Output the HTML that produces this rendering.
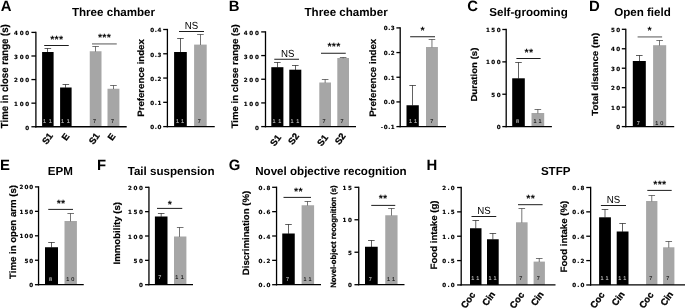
<!DOCTYPE html>
<html><head><meta charset="utf-8"><title>Figure</title>
<style>
html,body{margin:0;padding:0;background:#fff;}
body{width:685px;height:308px;overflow:hidden;}
svg{display:block;font-family:"Liberation Sans",sans-serif;text-rendering:geometricPrecision;}
</style></head><body>
<svg width="685" height="308" viewBox="0 0 685 308">
<rect width="685" height="308" fill="#fff"/>
<text x="0.7" y="11.3" font-size="14.9" font-weight="bold" text-anchor="start" fill="#000">A</text>
<text x="113.5" y="15.7" font-size="11.6" font-weight="bold" text-anchor="middle" fill="#000">Three chamber</text>
<rect x="42.1" y="52" width="11.5" height="74.75" fill="#000"/>
<line x1="47.5" y1="52.3" x2="47.5" y2="48.5" stroke="#000" stroke-width="0.62"/>
<line x1="44.55" y1="48.5" x2="51.15" y2="48.5" stroke="#000" stroke-width="0.62"/>
<text x="44.55 50.35" y="123.25" font-size="5.5" text-anchor="middle" fill="#c4c4c4" stroke="#c4c4c4" stroke-width="0.1">11</text>
<rect x="60.1" y="87.5" width="11.5" height="39.25" fill="#000"/>
<line x1="65.5" y1="87.8" x2="65.5" y2="84.5" stroke="#000" stroke-width="0.62"/>
<line x1="62.55" y1="84.5" x2="69.15" y2="84.5" stroke="#000" stroke-width="0.62"/>
<text x="62.55 68.35" y="123.25" font-size="5.5" text-anchor="middle" fill="#c4c4c4" stroke="#c4c4c4" stroke-width="0.1">11</text>
<rect x="89.75" y="51.25" width="11.75" height="75.5" fill="#a6a6a6"/>
<line x1="95.5" y1="51.55" x2="95.5" y2="46.5" stroke="#202020" stroke-width="0.62"/>
<line x1="92.33" y1="46.5" x2="98.92" y2="46.5" stroke="#202020" stroke-width="0.62"/>
<text x="94.62" y="123.25" font-size="5.5" text-anchor="middle" fill="#111" stroke="#111" stroke-width="0.1">7</text>
<rect x="107.5" y="88.75" width="11.9" height="38" fill="#a6a6a6"/>
<line x1="113.5" y1="89.05" x2="113.5" y2="85.5" stroke="#202020" stroke-width="0.62"/>
<line x1="110.15" y1="85.5" x2="116.75" y2="85.5" stroke="#202020" stroke-width="0.62"/>
<text x="112.45" y="123.25" font-size="5.5" text-anchor="middle" fill="#111" stroke="#111" stroke-width="0.1">7</text>
<line x1="35.9" y1="31.75" x2="35.9" y2="127.4" stroke="#000" stroke-width="1.3"/>
<line x1="35.25" y1="126.75" x2="126.7" y2="126.75" stroke="#000" stroke-width="1.3"/>
<line x1="31.4" y1="32.4" x2="35.9" y2="32.4" stroke="#000" stroke-width="1.3"/>
<text x="16 21.6 27.2" y="35.24" font-size="5.6" font-weight="bold" text-anchor="middle" font-family="DejaVu Sans, sans-serif" stroke="#000" stroke-width="0.15">400</text>
<line x1="31.4" y1="55.99" x2="35.9" y2="55.99" stroke="#000" stroke-width="1.3"/>
<text x="16 21.6 27.2" y="58.83" font-size="5.6" font-weight="bold" text-anchor="middle" font-family="DejaVu Sans, sans-serif" stroke="#000" stroke-width="0.15">300</text>
<line x1="31.4" y1="79.57" x2="35.9" y2="79.57" stroke="#000" stroke-width="1.3"/>
<text x="16 21.6 27.2" y="82.42" font-size="5.6" font-weight="bold" text-anchor="middle" font-family="DejaVu Sans, sans-serif" stroke="#000" stroke-width="0.15">200</text>
<line x1="31.4" y1="103.16" x2="35.9" y2="103.16" stroke="#000" stroke-width="1.3"/>
<text x="16 21.6 27.2" y="106.01" font-size="5.6" font-weight="bold" text-anchor="middle" font-family="DejaVu Sans, sans-serif" stroke="#000" stroke-width="0.15">100</text>
<line x1="31.4" y1="126.75" x2="35.9" y2="126.75" stroke="#000" stroke-width="1.3"/>
<text x="27.2" y="129.59" font-size="5.6" font-weight="bold" text-anchor="middle" font-family="DejaVu Sans, sans-serif" stroke="#000" stroke-width="0.15">0</text>
<line x1="44.2" y1="45.5" x2="68.75" y2="45.5" stroke="#111" stroke-width="0.95"/>
<text x="56.83" y="43.3" font-size="10.6" font-weight="bold" text-anchor="middle" fill="#000" letter-spacing="0.3">***</text>
<line x1="92" y1="43.9" x2="116.75" y2="43.9" stroke="#8e8e8e" stroke-width="1.5"/>
<text x="104.53" y="40.7" font-size="10.6" font-weight="bold" text-anchor="middle" fill="#000" letter-spacing="0.3">***</text>
<text transform="translate(7.7 76.2) rotate(-90) scale(0.94 1)" font-size="10.23" font-weight="bold" text-anchor="middle" stroke="#000" stroke-width="0.2">Time in close range (s)</text>
<text x="49.99" y="140.41" font-size="9.3" font-weight="bold" text-anchor="middle" fill="#000" transform="rotate(-54 49.99 140.41)" stroke="#000" stroke-width="0.3">S1</text>
<text x="68.09" y="138.66" font-size="9.3" font-weight="bold" text-anchor="middle" fill="#000" transform="rotate(-54 68.09 138.66)" stroke="#000" stroke-width="0.3">E</text>
<text x="96.79" y="140.41" font-size="9.3" font-weight="bold" text-anchor="middle" fill="#000" transform="rotate(-54 96.79 140.41)" stroke="#000" stroke-width="0.3">S1</text>
<text x="113.99" y="138.66" font-size="9.3" font-weight="bold" text-anchor="middle" fill="#000" transform="rotate(-54 113.99 138.66)" stroke="#000" stroke-width="0.3">E</text>
<rect x="174.1" y="52" width="12.7" height="74.6" fill="#000"/>
<line x1="180.5" y1="52.3" x2="180.5" y2="38.5" stroke="#000" stroke-width="0.62"/>
<line x1="177.15" y1="38.5" x2="183.75" y2="38.5" stroke="#000" stroke-width="0.62"/>
<text x="177.55 182.55" y="123.1" font-size="5.5" text-anchor="middle" fill="#c4c4c4" stroke="#c4c4c4" stroke-width="0.1">11</text>
<rect x="194.1" y="44.6" width="12.6" height="82" fill="#a6a6a6"/>
<line x1="200.5" y1="44.9" x2="200.5" y2="34.5" stroke="#202020" stroke-width="0.62"/>
<line x1="197.1" y1="34.5" x2="203.7" y2="34.5" stroke="#202020" stroke-width="0.62"/>
<text x="199.4" y="123.1" font-size="5.5" text-anchor="middle" fill="#111" stroke="#111" stroke-width="0.1">7</text>
<line x1="167.4" y1="28.85" x2="167.4" y2="127.25" stroke="#000" stroke-width="1.3"/>
<line x1="166.75" y1="126.6" x2="214.75" y2="126.6" stroke="#000" stroke-width="1.3"/>
<line x1="163.2" y1="29.5" x2="167.4" y2="29.5" stroke="#000" stroke-width="1.3"/>
<text x="152.08 155.79 159.5" y="32.34" font-size="5.6" font-weight="bold" text-anchor="middle" font-family="DejaVu Sans, sans-serif" stroke="#000" stroke-width="0.15">0.4</text>
<line x1="163.2" y1="53.77" x2="167.4" y2="53.77" stroke="#000" stroke-width="1.3"/>
<text x="152.08 155.79 159.5" y="56.62" font-size="5.6" font-weight="bold" text-anchor="middle" font-family="DejaVu Sans, sans-serif" stroke="#000" stroke-width="0.15">0.3</text>
<line x1="163.2" y1="78.05" x2="167.4" y2="78.05" stroke="#000" stroke-width="1.3"/>
<text x="152.08 155.79 159.5" y="80.89" font-size="5.6" font-weight="bold" text-anchor="middle" font-family="DejaVu Sans, sans-serif" stroke="#000" stroke-width="0.15">0.2</text>
<line x1="163.2" y1="102.32" x2="167.4" y2="102.32" stroke="#000" stroke-width="1.3"/>
<text x="152.08 155.79 159.5" y="105.17" font-size="5.6" font-weight="bold" text-anchor="middle" font-family="DejaVu Sans, sans-serif" stroke="#000" stroke-width="0.15">0.1</text>
<line x1="163.2" y1="126.6" x2="167.4" y2="126.6" stroke="#000" stroke-width="1.3"/>
<text x="152.08 155.79 159.5" y="129.44" font-size="5.6" font-weight="bold" text-anchor="middle" font-family="DejaVu Sans, sans-serif" stroke="#000" stroke-width="0.15">0.0</text>
<line x1="179" y1="31.5" x2="204" y2="31.5" stroke="#111" stroke-width="0.95"/>
<text transform="translate(191.5 29.1) scale(1 1.06)" font-size="9.7" text-anchor="middle">NS</text>
<text transform="translate(143.8 78) rotate(-90) scale(1.04 1)" font-size="9.26" font-weight="bold" text-anchor="middle" stroke="#000" stroke-width="0.2">Preference index</text>
<text x="228.7" y="11.3" font-size="14.9" font-weight="bold" text-anchor="start" fill="#000">B</text>
<text x="346.1" y="15.7" font-size="11.6" font-weight="bold" text-anchor="middle" fill="#000">Three chamber</text>
<rect x="271.3" y="67.2" width="12.1" height="59.4" fill="#000"/>
<line x1="277.5" y1="67.5" x2="277.5" y2="62.5" stroke="#000" stroke-width="0.62"/>
<line x1="274.05" y1="62.5" x2="280.65" y2="62.5" stroke="#000" stroke-width="0.62"/>
<text x="274.05 279.85" y="123.1" font-size="5.5" text-anchor="middle" fill="#c4c4c4" stroke="#c4c4c4" stroke-width="0.1">11</text>
<rect x="289.3" y="69.7" width="12" height="56.9" fill="#000"/>
<line x1="295.5" y1="70" x2="295.5" y2="65.5" stroke="#000" stroke-width="0.62"/>
<line x1="292" y1="65.5" x2="298.6" y2="65.5" stroke="#000" stroke-width="0.62"/>
<text x="292 297.8" y="123.1" font-size="5.5" text-anchor="middle" fill="#c4c4c4" stroke="#c4c4c4" stroke-width="0.1">11</text>
<rect x="319.3" y="82.5" width="11.7" height="44.1" fill="#a6a6a6"/>
<line x1="325.15" y1="82.8" x2="325.15" y2="79.5" stroke="#202020" stroke-width="0.62"/>
<line x1="321.85" y1="79.5" x2="328.45" y2="79.5" stroke="#202020" stroke-width="0.62"/>
<text x="324.15" y="123.1" font-size="5.5" text-anchor="middle" fill="#111" stroke="#111" stroke-width="0.1">7</text>
<rect x="337.3" y="58" width="11.7" height="68.6" fill="#a6a6a6"/>
<line x1="343.15" y1="58.3" x2="343.15" y2="57.5" stroke="#202020" stroke-width="0.62"/>
<line x1="339.85" y1="57.5" x2="346.45" y2="57.5" stroke="#202020" stroke-width="0.62"/>
<text x="342.15" y="123.1" font-size="5.5" text-anchor="middle" fill="#111" stroke="#111" stroke-width="0.1">7</text>
<line x1="265.5" y1="31.25" x2="265.5" y2="127.25" stroke="#000" stroke-width="1.3"/>
<line x1="264.85" y1="126.6" x2="356" y2="126.6" stroke="#000" stroke-width="1.3"/>
<line x1="261.2" y1="31.9" x2="265.5" y2="31.9" stroke="#000" stroke-width="1.3"/>
<text x="245.7 251.3 256.9" y="34.84" font-size="5.6" font-weight="bold" text-anchor="middle" font-family="DejaVu Sans, sans-serif" stroke="#000" stroke-width="0.15">400</text>
<line x1="261.2" y1="55.57" x2="265.5" y2="55.57" stroke="#000" stroke-width="1.3"/>
<text x="245.7 251.3 256.9" y="58.52" font-size="5.6" font-weight="bold" text-anchor="middle" font-family="DejaVu Sans, sans-serif" stroke="#000" stroke-width="0.15">300</text>
<line x1="261.2" y1="79.25" x2="265.5" y2="79.25" stroke="#000" stroke-width="1.3"/>
<text x="245.7 251.3 256.9" y="82.19" font-size="5.6" font-weight="bold" text-anchor="middle" font-family="DejaVu Sans, sans-serif" stroke="#000" stroke-width="0.15">200</text>
<line x1="261.2" y1="102.92" x2="265.5" y2="102.92" stroke="#000" stroke-width="1.3"/>
<text x="245.7 251.3 256.9" y="105.87" font-size="5.6" font-weight="bold" text-anchor="middle" font-family="DejaVu Sans, sans-serif" stroke="#000" stroke-width="0.15">100</text>
<line x1="261.2" y1="126.6" x2="265.5" y2="126.6" stroke="#000" stroke-width="1.3"/>
<text x="256.9" y="129.54" font-size="5.6" font-weight="bold" text-anchor="middle" font-family="DejaVu Sans, sans-serif" stroke="#000" stroke-width="0.15">0</text>
<line x1="274.3" y1="59.25" x2="299" y2="59.25" stroke="#111" stroke-width="0.95"/>
<text transform="translate(287.75 56.85) scale(1 1.06)" font-size="9.7" text-anchor="middle">NS</text>
<line x1="321" y1="53.25" x2="345.75" y2="53.25" stroke="#111" stroke-width="0.95"/>
<text x="334.02" y="49.75" font-size="10.6" font-weight="bold" text-anchor="middle" fill="#000" letter-spacing="0.3">***</text>
<text transform="translate(237.6 76.3) rotate(-90) scale(1.03 1)" font-size="9.36" font-weight="bold" text-anchor="middle" stroke="#000" stroke-width="0.2">Time in close range (s)</text>
<text x="278.19" y="142.11" font-size="9.3" font-weight="bold" text-anchor="middle" fill="#000" transform="rotate(-54 278.19 142.11)" stroke="#000" stroke-width="0.3">S1</text>
<text x="296.19" y="140.56" font-size="9.3" font-weight="bold" text-anchor="middle" fill="#000" transform="rotate(-54 296.19 140.56)" stroke="#000" stroke-width="0.3">S2</text>
<text x="325.09" y="142.11" font-size="9.3" font-weight="bold" text-anchor="middle" fill="#000" transform="rotate(-54 325.09 142.11)" stroke="#000" stroke-width="0.3">S1</text>
<text x="342.79" y="140.56" font-size="9.3" font-weight="bold" text-anchor="middle" fill="#000" transform="rotate(-54 342.79 140.56)" stroke="#000" stroke-width="0.3">S2</text>
<rect x="406.5" y="105.25" width="12.3" height="21.35" fill="#000"/>
<line x1="412.5" y1="105.55" x2="412.5" y2="85.5" stroke="#000" stroke-width="0.62"/>
<line x1="409.35" y1="85.5" x2="415.95" y2="85.5" stroke="#000" stroke-width="0.62"/>
<text x="410.65 415.65" y="123.1" font-size="5.5" text-anchor="middle" fill="#c4c4c4" stroke="#c4c4c4" stroke-width="0.1">11</text>
<rect x="426" y="47" width="11.9" height="79.6" fill="#a6a6a6"/>
<line x1="431.95" y1="47.3" x2="431.95" y2="39.5" stroke="#202020" stroke-width="0.62"/>
<line x1="428.65" y1="39.5" x2="435.25" y2="39.5" stroke="#202020" stroke-width="0.62"/>
<text x="431.85" y="123.1" font-size="5.5" text-anchor="middle" fill="#111" stroke="#111" stroke-width="0.1">7</text>
<line x1="400.2" y1="27.25" x2="400.2" y2="127.25" stroke="#000" stroke-width="1.3"/>
<line x1="399.55" y1="126.6" x2="446" y2="126.6" stroke="#000" stroke-width="1.3"/>
<line x1="396.4" y1="27.9" x2="400.2" y2="27.9" stroke="#000" stroke-width="1.3"/>
<text x="385.7 389.2 392.7" y="30.44" font-size="5.6" font-weight="bold" text-anchor="middle" font-family="DejaVu Sans, sans-serif" stroke="#000" stroke-width="0.15">0.3</text>
<line x1="396.4" y1="52.57" x2="400.2" y2="52.57" stroke="#000" stroke-width="1.3"/>
<text x="385.7 389.2 392.7" y="55.12" font-size="5.6" font-weight="bold" text-anchor="middle" font-family="DejaVu Sans, sans-serif" stroke="#000" stroke-width="0.15">0.2</text>
<line x1="396.4" y1="77.25" x2="400.2" y2="77.25" stroke="#000" stroke-width="1.3"/>
<text x="385.7 389.2 392.7" y="79.79" font-size="5.6" font-weight="bold" text-anchor="middle" font-family="DejaVu Sans, sans-serif" stroke="#000" stroke-width="0.15">0.1</text>
<line x1="396.4" y1="101.92" x2="400.2" y2="101.92" stroke="#000" stroke-width="1.3"/>
<text x="385.7 389.2 392.7" y="104.47" font-size="5.6" font-weight="bold" text-anchor="middle" font-family="DejaVu Sans, sans-serif" stroke="#000" stroke-width="0.15">0.0</text>
<line x1="396.4" y1="126.6" x2="400.2" y2="126.6" stroke="#000" stroke-width="1.3"/>
<text x="381.82 385.7 389.2 392.7" y="129.14" font-size="5.6" font-weight="bold" text-anchor="middle" font-family="DejaVu Sans, sans-serif" stroke="#000" stroke-width="0.15">-0.1</text>
<line x1="410.15" y1="36.75" x2="435" y2="36.75" stroke="#111" stroke-width="0.95"/>
<text x="422.72" y="33.95" font-size="10.6" font-weight="bold" text-anchor="middle" fill="#000" letter-spacing="0.3">*</text>
<text transform="translate(375.9 77.8) rotate(-90) scale(1.03 1)" font-size="9.41" font-weight="bold" text-anchor="middle" stroke="#000" stroke-width="0.2">Preference index</text>
<text x="467.3" y="11.4" font-size="14.9" font-weight="bold" text-anchor="start" fill="#000">C</text>
<text x="528.5" y="15.7" font-size="11.6" font-weight="bold" text-anchor="middle" fill="#000">Self-grooming</text>
<rect x="512.2" y="78.3" width="12.6" height="48.3" fill="#000"/>
<line x1="518.5" y1="78.6" x2="518.5" y2="62.5" stroke="#000" stroke-width="0.62"/>
<line x1="515.2" y1="62.5" x2="521.8" y2="62.5" stroke="#000" stroke-width="0.62"/>
<text x="517.5" y="123.1" font-size="5.5" text-anchor="middle" fill="#c4c4c4" stroke="#c4c4c4" stroke-width="0.1">8</text>
<rect x="531.5" y="113" width="12.7" height="13.6" fill="#a6a6a6"/>
<line x1="537.85" y1="113.3" x2="537.85" y2="109.5" stroke="#202020" stroke-width="0.62"/>
<line x1="534.55" y1="109.5" x2="541.15" y2="109.5" stroke="#202020" stroke-width="0.62"/>
<text x="534.95 539.95" y="123.1" font-size="5.5" text-anchor="middle" fill="#111" stroke="#111" stroke-width="0.1">11</text>
<line x1="506.2" y1="28.85" x2="506.2" y2="127.25" stroke="#000" stroke-width="1.3"/>
<line x1="505.55" y1="126.6" x2="551.9" y2="126.6" stroke="#000" stroke-width="1.3"/>
<line x1="502.3" y1="29.5" x2="506.2" y2="29.5" stroke="#000" stroke-width="1.3"/>
<text x="488 493.3 498.6" y="32.04" font-size="5.6" font-weight="bold" text-anchor="middle" font-family="DejaVu Sans, sans-serif" stroke="#000" stroke-width="0.15">150</text>
<line x1="502.3" y1="61.87" x2="506.2" y2="61.87" stroke="#000" stroke-width="1.3"/>
<text x="488 493.3 498.6" y="64.41" font-size="5.6" font-weight="bold" text-anchor="middle" font-family="DejaVu Sans, sans-serif" stroke="#000" stroke-width="0.15">100</text>
<line x1="502.3" y1="94.23" x2="506.2" y2="94.23" stroke="#000" stroke-width="1.3"/>
<text x="493.3 498.6" y="96.78" font-size="5.6" font-weight="bold" text-anchor="middle" font-family="DejaVu Sans, sans-serif" stroke="#000" stroke-width="0.15">50</text>
<line x1="502.3" y1="126.6" x2="506.2" y2="126.6" stroke="#000" stroke-width="1.3"/>
<text x="498.6" y="129.14" font-size="5.6" font-weight="bold" text-anchor="middle" font-family="DejaVu Sans, sans-serif" stroke="#000" stroke-width="0.15">0</text>
<line x1="516.4" y1="58.5" x2="540.6" y2="58.5" stroke="#111" stroke-width="0.95"/>
<text x="529.05" y="56.3" font-size="10.6" font-weight="bold" text-anchor="middle" fill="#000" letter-spacing="0.3">**</text>
<text transform="translate(477.2 74.6) rotate(-90) scale(1.11 1)" font-size="8.69" font-weight="bold" text-anchor="middle" stroke="#000" stroke-width="0.2">Duration (s)</text>
<text x="589" y="11.4" font-size="14.9" font-weight="bold" text-anchor="start" fill="#000">D</text>
<text x="642.5" y="15.7" font-size="11.6" font-weight="bold" text-anchor="middle" fill="#000">Open field</text>
<rect x="632.8" y="61" width="13" height="65.6" fill="#000"/>
<line x1="639.5" y1="61.3" x2="639.5" y2="55.5" stroke="#000" stroke-width="0.62"/>
<line x1="636" y1="55.5" x2="642.6" y2="55.5" stroke="#000" stroke-width="0.62"/>
<text x="638.3" y="124.8" font-size="5.5" text-anchor="middle" fill="#c4c4c4" stroke="#c4c4c4" stroke-width="0.1">7</text>
<rect x="653.1" y="45.2" width="13.1" height="81.4" fill="#a6a6a6"/>
<line x1="659.5" y1="45.5" x2="659.5" y2="40.5" stroke="#202020" stroke-width="0.62"/>
<line x1="656.35" y1="40.5" x2="662.95" y2="40.5" stroke="#202020" stroke-width="0.62"/>
<text x="656.75 661.75" y="124.8" font-size="5.5" text-anchor="middle" fill="#111" stroke="#111" stroke-width="0.1">10</text>
<line x1="625.8" y1="28.65" x2="625.8" y2="127.25" stroke="#000" stroke-width="1.3"/>
<line x1="625.15" y1="126.6" x2="674.2" y2="126.6" stroke="#000" stroke-width="1.3"/>
<line x1="621.8" y1="29.3" x2="625.8" y2="29.3" stroke="#000" stroke-width="1.3"/>
<text x="612.95 618.1" y="31.84" font-size="5.6" font-weight="bold" text-anchor="middle" font-family="DejaVu Sans, sans-serif" stroke="#000" stroke-width="0.15">50</text>
<line x1="621.8" y1="48.76" x2="625.8" y2="48.76" stroke="#000" stroke-width="1.3"/>
<text x="612.95 618.1" y="51.3" font-size="5.6" font-weight="bold" text-anchor="middle" font-family="DejaVu Sans, sans-serif" stroke="#000" stroke-width="0.15">40</text>
<line x1="621.8" y1="68.22" x2="625.8" y2="68.22" stroke="#000" stroke-width="1.3"/>
<text x="612.95 618.1" y="70.76" font-size="5.6" font-weight="bold" text-anchor="middle" font-family="DejaVu Sans, sans-serif" stroke="#000" stroke-width="0.15">30</text>
<line x1="621.8" y1="87.68" x2="625.8" y2="87.68" stroke="#000" stroke-width="1.3"/>
<text x="612.95 618.1" y="90.22" font-size="5.6" font-weight="bold" text-anchor="middle" font-family="DejaVu Sans, sans-serif" stroke="#000" stroke-width="0.15">20</text>
<line x1="621.8" y1="107.14" x2="625.8" y2="107.14" stroke="#000" stroke-width="1.3"/>
<text x="612.95 618.1" y="109.68" font-size="5.6" font-weight="bold" text-anchor="middle" font-family="DejaVu Sans, sans-serif" stroke="#000" stroke-width="0.15">10</text>
<line x1="621.8" y1="126.6" x2="625.8" y2="126.6" stroke="#000" stroke-width="1.3"/>
<text x="618.1" y="129.14" font-size="5.6" font-weight="bold" text-anchor="middle" font-family="DejaVu Sans, sans-serif" stroke="#000" stroke-width="0.15">0</text>
<line x1="637.6" y1="36.9" x2="662.1" y2="36.9" stroke="#8e8e8e" stroke-width="1.5"/>
<text x="649.7" y="34.3" font-size="10.6" font-weight="bold" text-anchor="middle" fill="#000" letter-spacing="0.3">*</text>
<text transform="translate(597.9 74.3) rotate(-90) scale(1.11 1)" font-size="8.82" font-weight="bold" text-anchor="middle" stroke="#000" stroke-width="0.2">Total distance (m)</text>
<text x="-0.1" y="169.6" font-size="14.9" font-weight="bold" text-anchor="start" fill="#000">E</text>
<text x="60.25" y="174.8" font-size="11.6" font-weight="bold" text-anchor="middle" fill="#000">EPM</text>
<rect x="45" y="247.25" width="13" height="37.45" fill="#000"/>
<line x1="51.5" y1="247.55" x2="51.5" y2="242.5" stroke="#000" stroke-width="0.62"/>
<line x1="48.2" y1="242.5" x2="54.8" y2="242.5" stroke="#000" stroke-width="0.62"/>
<text x="50.5" y="280.7" font-size="5.5" text-anchor="middle" fill="#c4c4c4" stroke="#c4c4c4" stroke-width="0.1">8</text>
<rect x="64.5" y="221" width="12.4" height="63.7" fill="#a6a6a6"/>
<line x1="70.5" y1="221.3" x2="70.5" y2="213.5" stroke="#202020" stroke-width="0.62"/>
<line x1="67.4" y1="213.5" x2="74" y2="213.5" stroke="#202020" stroke-width="0.62"/>
<text x="67.8 72.8" y="280.7" font-size="5.5" text-anchor="middle" fill="#111" stroke="#111" stroke-width="0.1">10</text>
<line x1="38.55" y1="186.25" x2="38.55" y2="285.35" stroke="#000" stroke-width="1.3"/>
<line x1="37.9" y1="284.7" x2="83.75" y2="284.7" stroke="#000" stroke-width="1.3"/>
<line x1="34.95" y1="186.9" x2="38.55" y2="186.9" stroke="#000" stroke-width="1.3"/>
<text x="21.45 26.35 31.25" y="189.44" font-size="5.6" font-weight="bold" text-anchor="middle" font-family="DejaVu Sans, sans-serif" stroke="#000" stroke-width="0.15">200</text>
<line x1="34.95" y1="211.35" x2="38.55" y2="211.35" stroke="#000" stroke-width="1.3"/>
<text x="21.45 26.35 31.25" y="213.89" font-size="5.6" font-weight="bold" text-anchor="middle" font-family="DejaVu Sans, sans-serif" stroke="#000" stroke-width="0.15">150</text>
<line x1="34.95" y1="235.8" x2="38.55" y2="235.8" stroke="#000" stroke-width="1.3"/>
<text x="21.45 26.35 31.25" y="238.34" font-size="5.6" font-weight="bold" text-anchor="middle" font-family="DejaVu Sans, sans-serif" stroke="#000" stroke-width="0.15">100</text>
<line x1="34.95" y1="260.25" x2="38.55" y2="260.25" stroke="#000" stroke-width="1.3"/>
<text x="26.35 31.25" y="262.79" font-size="5.6" font-weight="bold" text-anchor="middle" font-family="DejaVu Sans, sans-serif" stroke="#000" stroke-width="0.15">50</text>
<line x1="34.95" y1="284.7" x2="38.55" y2="284.7" stroke="#000" stroke-width="1.3"/>
<text x="31.25" y="287.24" font-size="5.6" font-weight="bold" text-anchor="middle" font-family="DejaVu Sans, sans-serif" stroke="#000" stroke-width="0.15">0</text>
<line x1="48.25" y1="209.4" x2="73" y2="209.4" stroke="#111" stroke-width="0.95"/>
<text x="61.07" y="207.2" font-size="10.6" font-weight="bold" text-anchor="middle" fill="#000" letter-spacing="0.3">**</text>
<text transform="translate(16.2 232) rotate(-90) scale(1.04 1)" font-size="9.26" font-weight="bold" text-anchor="middle" stroke="#000" stroke-width="0.2">Time in open arm (s)</text>
<text x="97" y="169.6" font-size="14.9" font-weight="bold" text-anchor="start" fill="#000">F</text>
<text x="171.1" y="174.8" font-size="11.6" font-weight="bold" text-anchor="middle" fill="#000">Tail suspension</text>
<rect x="154.9" y="216.5" width="12.6" height="68.2" fill="#000"/>
<line x1="161.2" y1="216.8" x2="161.2" y2="213.5" stroke="#000" stroke-width="0.62"/>
<line x1="157.9" y1="213.5" x2="164.5" y2="213.5" stroke="#000" stroke-width="0.62"/>
<text x="159.9" y="279.1" font-size="5.5" text-anchor="middle" fill="#c4c4c4" stroke="#c4c4c4" stroke-width="0.1">7</text>
<rect x="174" y="236.5" width="12.4" height="48.2" fill="#a6a6a6"/>
<line x1="179.5" y1="236.8" x2="179.5" y2="227.5" stroke="#202020" stroke-width="0.62"/>
<line x1="176.9" y1="227.5" x2="183.5" y2="227.5" stroke="#202020" stroke-width="0.62"/>
<text x="176.7 182.3" y="279.1" font-size="5.5" text-anchor="middle" fill="#111" stroke="#111" stroke-width="0.1">11</text>
<line x1="148.95" y1="186.65" x2="148.95" y2="285.35" stroke="#000" stroke-width="1.3"/>
<line x1="148.3" y1="284.7" x2="193" y2="284.7" stroke="#000" stroke-width="1.3"/>
<line x1="145.05" y1="187.3" x2="148.95" y2="187.3" stroke="#000" stroke-width="1.3"/>
<text x="130.05 135.45 140.85" y="189.84" font-size="5.6" font-weight="bold" text-anchor="middle" font-family="DejaVu Sans, sans-serif" stroke="#000" stroke-width="0.15">200</text>
<line x1="145.05" y1="211.65" x2="148.95" y2="211.65" stroke="#000" stroke-width="1.3"/>
<text x="130.05 135.45 140.85" y="214.19" font-size="5.6" font-weight="bold" text-anchor="middle" font-family="DejaVu Sans, sans-serif" stroke="#000" stroke-width="0.15">150</text>
<line x1="145.05" y1="236" x2="148.95" y2="236" stroke="#000" stroke-width="1.3"/>
<text x="130.05 135.45 140.85" y="238.54" font-size="5.6" font-weight="bold" text-anchor="middle" font-family="DejaVu Sans, sans-serif" stroke="#000" stroke-width="0.15">100</text>
<line x1="145.05" y1="260.35" x2="148.95" y2="260.35" stroke="#000" stroke-width="1.3"/>
<text x="135.45 140.85" y="262.89" font-size="5.6" font-weight="bold" text-anchor="middle" font-family="DejaVu Sans, sans-serif" stroke="#000" stroke-width="0.15">50</text>
<line x1="145.05" y1="284.7" x2="148.95" y2="284.7" stroke="#000" stroke-width="1.3"/>
<text x="140.85" y="287.24" font-size="5.6" font-weight="bold" text-anchor="middle" font-family="DejaVu Sans, sans-serif" stroke="#000" stroke-width="0.15">0</text>
<line x1="157" y1="208.4" x2="182.25" y2="208.4" stroke="#111" stroke-width="0.95"/>
<text x="169.88" y="208.1" font-size="10.6" font-weight="bold" text-anchor="middle" fill="#000" letter-spacing="0.3">*</text>
<text transform="translate(120.4 233.2) rotate(-90) scale(1.04 1)" font-size="9.26" font-weight="bold" text-anchor="middle" stroke="#000" stroke-width="0.2">Immobility (s)</text>
<text x="228.7" y="169.6" font-size="14.9" font-weight="bold" text-anchor="start" fill="#000">G</text>
<text x="330.9" y="174.8" font-size="11.6" font-weight="bold" text-anchor="middle" fill="#000">Novel objective recognition</text>
<rect x="282.25" y="233.5" width="12.5" height="51.2" fill="#000"/>
<line x1="288.5" y1="233.8" x2="288.5" y2="224.5" stroke="#000" stroke-width="0.62"/>
<line x1="285.2" y1="224.5" x2="291.8" y2="224.5" stroke="#000" stroke-width="0.62"/>
<text x="287.5" y="281.2" font-size="5.5" text-anchor="middle" fill="#c4c4c4" stroke="#c4c4c4" stroke-width="0.1">7</text>
<rect x="301.6" y="205.25" width="12.5" height="79.45" fill="#a6a6a6"/>
<line x1="307.5" y1="205.55" x2="307.5" y2="201.5" stroke="#202020" stroke-width="0.62"/>
<line x1="304.55" y1="201.5" x2="311.15" y2="201.5" stroke="#202020" stroke-width="0.62"/>
<text x="304.95 309.95" y="281.2" font-size="5.5" text-anchor="middle" fill="#111" stroke="#111" stroke-width="0.1">11</text>
<line x1="276.55" y1="186.65" x2="276.55" y2="285.35" stroke="#000" stroke-width="1.3"/>
<line x1="275.9" y1="284.7" x2="321" y2="284.7" stroke="#000" stroke-width="1.3"/>
<line x1="272.15" y1="187.3" x2="276.55" y2="187.3" stroke="#000" stroke-width="1.3"/>
<text x="260.33 264.39 268.45" y="189.84" font-size="5.6" font-weight="bold" text-anchor="middle" font-family="DejaVu Sans, sans-serif" stroke="#000" stroke-width="0.15">0.8</text>
<line x1="272.15" y1="211.65" x2="276.55" y2="211.65" stroke="#000" stroke-width="1.3"/>
<text x="260.33 264.39 268.45" y="214.19" font-size="5.6" font-weight="bold" text-anchor="middle" font-family="DejaVu Sans, sans-serif" stroke="#000" stroke-width="0.15">0.6</text>
<line x1="272.15" y1="236" x2="276.55" y2="236" stroke="#000" stroke-width="1.3"/>
<text x="260.33 264.39 268.45" y="238.54" font-size="5.6" font-weight="bold" text-anchor="middle" font-family="DejaVu Sans, sans-serif" stroke="#000" stroke-width="0.15">0.4</text>
<line x1="272.15" y1="260.35" x2="276.55" y2="260.35" stroke="#000" stroke-width="1.3"/>
<text x="260.33 264.39 268.45" y="262.89" font-size="5.6" font-weight="bold" text-anchor="middle" font-family="DejaVu Sans, sans-serif" stroke="#000" stroke-width="0.15">0.2</text>
<line x1="272.15" y1="284.7" x2="276.55" y2="284.7" stroke="#000" stroke-width="1.3"/>
<text x="260.33 264.39 268.45" y="287.24" font-size="5.6" font-weight="bold" text-anchor="middle" font-family="DejaVu Sans, sans-serif" stroke="#000" stroke-width="0.15">0.0</text>
<line x1="283.5" y1="197.4" x2="311" y2="197.4" stroke="#111" stroke-width="0.95"/>
<text x="298.4" y="194.9" font-size="10.6" font-weight="bold" text-anchor="middle" fill="#000" letter-spacing="0.3">**</text>
<text transform="translate(249 233) rotate(-90) scale(1.05 1)" font-size="9.17" font-weight="bold" text-anchor="middle" stroke="#000" stroke-width="0.2">Discrimination (%)</text>
<rect x="365" y="246.75" width="12.7" height="37.95" fill="#000"/>
<line x1="371.5" y1="247.05" x2="371.5" y2="240.5" stroke="#000" stroke-width="0.62"/>
<line x1="368.05" y1="240.5" x2="374.65" y2="240.5" stroke="#000" stroke-width="0.62"/>
<text x="370.35" y="281.2" font-size="5.5" text-anchor="middle" fill="#c4c4c4" stroke="#c4c4c4" stroke-width="0.1">7</text>
<rect x="385.25" y="215.25" width="12.3" height="69.45" fill="#a6a6a6"/>
<line x1="391.5" y1="215.55" x2="391.5" y2="208.5" stroke="#202020" stroke-width="0.62"/>
<line x1="388.1" y1="208.5" x2="394.7" y2="208.5" stroke="#202020" stroke-width="0.62"/>
<text x="388.5 393.5" y="281.2" font-size="5.5" text-anchor="middle" fill="#111" stroke="#111" stroke-width="0.1">11</text>
<line x1="358.75" y1="186.65" x2="358.75" y2="285.35" stroke="#000" stroke-width="1.3"/>
<line x1="358.1" y1="284.7" x2="404.5" y2="284.7" stroke="#000" stroke-width="1.3"/>
<line x1="354.45" y1="187.3" x2="358.75" y2="187.3" stroke="#000" stroke-width="1.3"/>
<text x="344.35 350.05" y="189.84" font-size="5.6" font-weight="bold" text-anchor="middle" font-family="DejaVu Sans, sans-serif" stroke="#000" stroke-width="0.15">15</text>
<line x1="354.45" y1="219.77" x2="358.75" y2="219.77" stroke="#000" stroke-width="1.3"/>
<text x="344.35 350.05" y="222.31" font-size="5.6" font-weight="bold" text-anchor="middle" font-family="DejaVu Sans, sans-serif" stroke="#000" stroke-width="0.15">10</text>
<line x1="354.45" y1="252.23" x2="358.75" y2="252.23" stroke="#000" stroke-width="1.3"/>
<text x="350.05" y="254.78" font-size="5.6" font-weight="bold" text-anchor="middle" font-family="DejaVu Sans, sans-serif" stroke="#000" stroke-width="0.15">5</text>
<line x1="354.45" y1="284.7" x2="358.75" y2="284.7" stroke="#000" stroke-width="1.3"/>
<text x="350.05" y="287.24" font-size="5.6" font-weight="bold" text-anchor="middle" font-family="DejaVu Sans, sans-serif" stroke="#000" stroke-width="0.15">0</text>
<line x1="371.25" y1="205.4" x2="395.25" y2="205.4" stroke="#111" stroke-width="0.95"/>
<text x="383.1" y="202.4" font-size="10.6" font-weight="bold" text-anchor="middle" fill="#000" letter-spacing="0.3">**</text>
<text transform="translate(336.4 236.6) rotate(-90) scale(1 1)" font-size="7.75" font-weight="bold" text-anchor="middle" stroke="#000" stroke-width="0.2">Novel-object recognition (s)</text>
<text x="426.6" y="169.6" font-size="14.9" font-weight="bold" text-anchor="start" fill="#000">H</text>
<text x="555.7" y="174.8" font-size="11.6" font-weight="bold" text-anchor="middle" fill="#000">STFP</text>
<rect x="470" y="228.25" width="11.5" height="56.7" fill="#000"/>
<line x1="475.75" y1="228.55" x2="475.75" y2="220.5" stroke="#000" stroke-width="0.62"/>
<line x1="472.45" y1="220.5" x2="479.05" y2="220.5" stroke="#000" stroke-width="0.62"/>
<text x="472.85 477.85" y="280.25" font-size="5.5" text-anchor="middle" fill="#c4c4c4" stroke="#c4c4c4" stroke-width="0.1">11</text>
<rect x="487" y="239.25" width="11.7" height="45.7" fill="#000"/>
<line x1="492.85" y1="239.55" x2="492.85" y2="233.5" stroke="#000" stroke-width="0.62"/>
<line x1="489.55" y1="233.5" x2="496.15" y2="233.5" stroke="#000" stroke-width="0.62"/>
<text x="489.95 494.95" y="280.25" font-size="5.5" text-anchor="middle" fill="#c4c4c4" stroke="#c4c4c4" stroke-width="0.1">11</text>
<rect x="516" y="222.3" width="11.6" height="62.65" fill="#a6a6a6"/>
<line x1="521.8" y1="222.6" x2="521.8" y2="208.5" stroke="#202020" stroke-width="0.62"/>
<line x1="518.5" y1="208.5" x2="525.1" y2="208.5" stroke="#202020" stroke-width="0.62"/>
<text x="520.8" y="280.25" font-size="5.5" text-anchor="middle" fill="#111" stroke="#111" stroke-width="0.1">7</text>
<rect x="533.6" y="261.6" width="11.3" height="23.35" fill="#a6a6a6"/>
<line x1="539.25" y1="261.9" x2="539.25" y2="258.5" stroke="#202020" stroke-width="0.62"/>
<line x1="535.95" y1="258.5" x2="542.55" y2="258.5" stroke="#202020" stroke-width="0.62"/>
<text x="538.25" y="280.25" font-size="5.5" text-anchor="middle" fill="#111" stroke="#111" stroke-width="0.1">7</text>
<line x1="461.2" y1="186.85" x2="461.2" y2="285.6" stroke="#000" stroke-width="1.3"/>
<line x1="460.55" y1="284.95" x2="555.5" y2="284.95" stroke="#000" stroke-width="1.3"/>
<line x1="457.1" y1="187.5" x2="461.2" y2="187.5" stroke="#000" stroke-width="1.3"/>
<text x="444.3 448.5 452.7" y="190.04" font-size="5.6" font-weight="bold" text-anchor="middle" font-family="DejaVu Sans, sans-serif" stroke="#000" stroke-width="0.15">2.0</text>
<line x1="457.1" y1="211.86" x2="461.2" y2="211.86" stroke="#000" stroke-width="1.3"/>
<text x="444.3 448.5 452.7" y="214.41" font-size="5.6" font-weight="bold" text-anchor="middle" font-family="DejaVu Sans, sans-serif" stroke="#000" stroke-width="0.15">1.5</text>
<line x1="457.1" y1="236.22" x2="461.2" y2="236.22" stroke="#000" stroke-width="1.3"/>
<text x="444.3 448.5 452.7" y="238.77" font-size="5.6" font-weight="bold" text-anchor="middle" font-family="DejaVu Sans, sans-serif" stroke="#000" stroke-width="0.15">1.0</text>
<line x1="457.1" y1="260.59" x2="461.2" y2="260.59" stroke="#000" stroke-width="1.3"/>
<text x="444.3 448.5 452.7" y="263.13" font-size="5.6" font-weight="bold" text-anchor="middle" font-family="DejaVu Sans, sans-serif" stroke="#000" stroke-width="0.15">0.5</text>
<line x1="457.1" y1="284.95" x2="461.2" y2="284.95" stroke="#000" stroke-width="1.3"/>
<text x="444.3 448.5 452.7" y="287.49" font-size="5.6" font-weight="bold" text-anchor="middle" font-family="DejaVu Sans, sans-serif" stroke="#000" stroke-width="0.15">0.0</text>
<line x1="471.5" y1="216.5" x2="496.25" y2="216.5" stroke="#111" stroke-width="0.95"/>
<text transform="translate(483.88 214.1) scale(1 1.06)" font-size="9.7" text-anchor="middle">NS</text>
<line x1="518" y1="204.7" x2="542.6" y2="204.7" stroke="#111" stroke-width="0.95"/>
<text x="530.75" y="201.5" font-size="10.6" font-weight="bold" text-anchor="middle" fill="#000" letter-spacing="0.3">**</text>
<text transform="translate(437 235) rotate(-90) scale(1.04 1)" font-size="9.26" font-weight="bold" text-anchor="middle" stroke="#000" stroke-width="0.2">Food intake (g)</text>
<text x="475.8" y="294.9" font-size="9.3" font-weight="bold" text-anchor="end" fill="#000" transform="rotate(-54 475.8 294.9)" stroke="#000" stroke-width="0.3">Coc</text>
<text x="495.5" y="294.4" font-size="9.3" font-weight="bold" text-anchor="end" fill="#000" transform="rotate(-54 495.5 294.4)" stroke="#000" stroke-width="0.3">Cin</text>
<text x="524.7" y="294.9" font-size="9.3" font-weight="bold" text-anchor="end" fill="#000" transform="rotate(-54 524.7 294.9)" stroke="#000" stroke-width="0.3">Coc</text>
<text x="544.2" y="294.4" font-size="9.3" font-weight="bold" text-anchor="end" fill="#000" transform="rotate(-54 544.2 294.4)" stroke="#000" stroke-width="0.3">Cin</text>
<rect x="599.1" y="217.3" width="11.8" height="67.65" fill="#000"/>
<line x1="605" y1="217.6" x2="605" y2="209.5" stroke="#000" stroke-width="0.62"/>
<line x1="601.7" y1="209.5" x2="608.3" y2="209.5" stroke="#000" stroke-width="0.62"/>
<text x="602.1 607.1" y="280.25" font-size="5.5" text-anchor="middle" fill="#c4c4c4" stroke="#c4c4c4" stroke-width="0.1">11</text>
<rect x="616.7" y="231.5" width="11.8" height="53.45" fill="#000"/>
<line x1="622.5" y1="231.8" x2="622.5" y2="223.5" stroke="#000" stroke-width="0.62"/>
<line x1="619.3" y1="223.5" x2="625.9" y2="223.5" stroke="#000" stroke-width="0.62"/>
<text x="619.7 624.7" y="280.25" font-size="5.5" text-anchor="middle" fill="#c4c4c4" stroke="#c4c4c4" stroke-width="0.1">11</text>
<rect x="646.1" y="201" width="11.3" height="83.95" fill="#a6a6a6"/>
<line x1="651.75" y1="201.3" x2="651.75" y2="195.5" stroke="#202020" stroke-width="0.62"/>
<line x1="648.45" y1="195.5" x2="655.05" y2="195.5" stroke="#202020" stroke-width="0.62"/>
<text x="650.75" y="280.25" font-size="5.5" text-anchor="middle" fill="#111" stroke="#111" stroke-width="0.1">7</text>
<rect x="663.1" y="247.3" width="11.3" height="37.65" fill="#a6a6a6"/>
<line x1="668.75" y1="247.6" x2="668.75" y2="241.5" stroke="#202020" stroke-width="0.62"/>
<line x1="665.45" y1="241.5" x2="672.05" y2="241.5" stroke="#202020" stroke-width="0.62"/>
<text x="667.75" y="280.25" font-size="5.5" text-anchor="middle" fill="#111" stroke="#111" stroke-width="0.1">7</text>
<line x1="590.65" y1="186.85" x2="590.65" y2="285.6" stroke="#000" stroke-width="1.3"/>
<line x1="590" y1="284.95" x2="685" y2="284.95" stroke="#000" stroke-width="1.3"/>
<line x1="586.25" y1="187.5" x2="590.65" y2="187.5" stroke="#000" stroke-width="1.3"/>
<text x="574.22 578.39 582.55" y="190.04" font-size="5.6" font-weight="bold" text-anchor="middle" font-family="DejaVu Sans, sans-serif" stroke="#000" stroke-width="0.15">0.8</text>
<line x1="586.25" y1="211.86" x2="590.65" y2="211.86" stroke="#000" stroke-width="1.3"/>
<text x="574.22 578.39 582.55" y="214.41" font-size="5.6" font-weight="bold" text-anchor="middle" font-family="DejaVu Sans, sans-serif" stroke="#000" stroke-width="0.15">0.6</text>
<line x1="586.25" y1="236.22" x2="590.65" y2="236.22" stroke="#000" stroke-width="1.3"/>
<text x="574.22 578.39 582.55" y="238.77" font-size="5.6" font-weight="bold" text-anchor="middle" font-family="DejaVu Sans, sans-serif" stroke="#000" stroke-width="0.15">0.4</text>
<line x1="586.25" y1="260.59" x2="590.65" y2="260.59" stroke="#000" stroke-width="1.3"/>
<text x="574.22 578.39 582.55" y="263.13" font-size="5.6" font-weight="bold" text-anchor="middle" font-family="DejaVu Sans, sans-serif" stroke="#000" stroke-width="0.15">0.2</text>
<line x1="586.25" y1="284.95" x2="590.65" y2="284.95" stroke="#000" stroke-width="1.3"/>
<text x="574.22 578.39 582.55" y="287.49" font-size="5.6" font-weight="bold" text-anchor="middle" font-family="DejaVu Sans, sans-serif" stroke="#000" stroke-width="0.15">0.0</text>
<line x1="600.9" y1="205.5" x2="626" y2="205.5" stroke="#111" stroke-width="0.95"/>
<text transform="translate(613.45 203.1) scale(1 1.06)" font-size="9.7" text-anchor="middle">NS</text>
<line x1="647.3" y1="190.4" x2="671.7" y2="190.4" stroke="#111" stroke-width="0.95"/>
<text x="659.85" y="188.2" font-size="10.6" font-weight="bold" text-anchor="middle" fill="#000" letter-spacing="0.3">***</text>
<text transform="translate(567 236.6) rotate(-90) scale(1.04 1)" font-size="9.26" font-weight="bold" text-anchor="middle" stroke="#000" stroke-width="0.2">Food intake (%)</text>
<text x="605.1" y="294.9" font-size="9.3" font-weight="bold" text-anchor="end" fill="#000" transform="rotate(-54 605.1 294.9)" stroke="#000" stroke-width="0.3">Coc</text>
<text x="625.1" y="294.4" font-size="9.3" font-weight="bold" text-anchor="end" fill="#000" transform="rotate(-54 625.1 294.4)" stroke="#000" stroke-width="0.3">Cin</text>
<text x="654" y="294.9" font-size="9.3" font-weight="bold" text-anchor="end" fill="#000" transform="rotate(-54 654 294.9)" stroke="#000" stroke-width="0.3">Coc</text>
<text x="673.7" y="294.4" font-size="9.3" font-weight="bold" text-anchor="end" fill="#000" transform="rotate(-54 673.7 294.4)" stroke="#000" stroke-width="0.3">Cin</text>
</svg>
</body></html>
